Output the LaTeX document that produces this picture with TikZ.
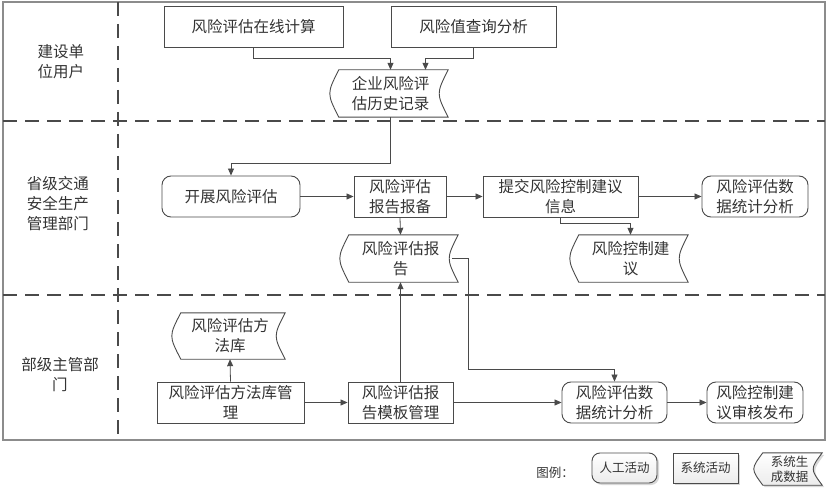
\documentclass[tikz,border=0pt]{standalone}
\usepackage{fontspec}
\newfontfamily\cjk{Noto Sans CJK SC}
\usetikzlibrary{arrows.meta,shadows}
\definecolor{linegray}{HTML}{4A4A4A}
\definecolor{framegray}{HTML}{8C8C8C}
\definecolor{txtgray}{HTML}{333333}
\pgfdeclarelayer{background}
\pgfsetlayers{background,main}

\begin{document}
\begin{tikzpicture}[x=1pt,y=-1pt,
  font=\cjk\fontsize{15.5}{20}\selectfont, text=txtgray,
  box/.style={draw=linegray,line width=0.9pt,align=center,inner sep=0pt,minimum height=41pt},
  proc/.style={box},
  act/.style={box,rounded corners=9pt},
  store/.style={align=center,inner sep=0pt,minimum height=47pt},
  storeline/.style={draw=linegray,line width=0.9pt},
  flow/.style={draw=linegray,line width=0.8pt,-{Triangle[length=7pt,width=6pt]}},
  lane/.style={draw=linegray,line width=1.2pt,dash pattern=on 14pt off 8pt},
  legend/.style={font=\cjk\fontsize{12.5}{15}\selectfont,minimum width=65pt,minimum height=30pt,
    top color=white,bottom color=gray!15,drop shadow={shadow xshift=2pt,shadow yshift=-2pt,fill=gray!60}}]
\useasboundingbox (0,0) rectangle (828,492);

% swimlanes
\draw[framegray,line width=1.5pt] (3,2) rectangle (825,440);
\draw[lane] (118,2) -- (118,440);
\draw[lane] (3,121) -- (825,121);
\draw[lane] (3,295) -- (825,295);
\node[align=center] (lane1) at (61,62) {建设单\\位用户};
\node[align=center] (lane2) at (58,204) {省级交通\\安全生产\\管理部门};
\node[align=center] (lane3) at (60,375) {部级主管部\\门};

% enterprise users
\node[proc,minimum width=179pt] (calc) at (253.5,26.5) {风险评估在线计算};
\node[proc,minimum width=165pt] (query) at (473.5,26.5) {风险值查询分析};
\node[store,minimum width=115pt] (hist) at (390.5,93.5) {企业风险评\\估历史记录};

% provincial department
\node[act,minimum width=138pt] (start) at (231,196.5) {开展风险评估};
\node[proc,minimum width=92pt] (filing) at (400,196.5) {风险评估\\报告报备};
\node[proc,minimum width=155pt] (submit) at (560.5,196.5) {提交风险控制建议\\信息};
\node[act,minimum width=106pt] (stat1) at (755,196.5) {风险评估数\\据统计分析};
\node[store,minimum width=115pt] (report) at (400.5,258.5) {风险评估报\\告};
\node[store,minimum width=115pt] (advice) at (630.5,258.5) {风险控制建\\议};

% ministry
\node[store,minimum width=110pt,minimum height=46pt] (lib) at (230,336) {风险评估方\\法库};
\node[proc,minimum width=147pt] (libm) at (230.5,402.5) {风险评估方法库管\\理};
\node[proc,minimum width=105pt] (tmpl) at (400.5,402.5) {风险评估报\\告模板管理};
\node[act,minimum width=105pt] (stat2) at (614.5,402.5) {风险评估数\\据统计分析};
\node[act,minimum width=96pt] (publish) at (755,402.5) {风险控制建\\议审核发布};

% stored data outlines
\foreach \n in {hist,report,advice,lib}
  \draw[storeline] ([xshift=6pt]\n.north west) -- (\n.north east)
    .. controls ([xshift=-12pt]\n.east) .. (\n.south east)
    -- ([xshift=6pt]\n.south west)
    .. controls ([xshift=-6pt]\n.west) .. ([xshift=6pt]\n.north west) -- cycle;

% flows
\draw[flow] (calc.south) -- ++(0,11) -| (hist.north);
\draw[flow] (query.south) -- ++(0,11) -| ([xshift=35pt]hist.north);
\draw[flow] (hist.south) -- ++(0,46) -| (start.north);
\draw[flow] (start.east) -- (filing.west);
\draw[flow] (filing.east) -- (submit.west);
\draw[flow] (submit.east) -- (stat1.west);
\draw[flow] (filing.south) -- (report.north);
\draw[flow] (submit.south) -- ++(0,6) -| (advice.north);
\draw[flow] ([xshift=-6pt]report.east) -- ++(16,0) |- ([yshift=12pt]stat2.north) -- (stat2.north);
\draw[flow] (libm.north) -- (lib.south);
\draw[flow] (libm.east) -- (tmpl.west);
\draw[flow] (tmpl.north) -- (report.south);
\draw[flow] (tmpl.east) -- (stat2.west);
\draw[flow] (stat2.east) -- (publish.west);

% legend
\node[font=\cjk\fontsize{12.5}{15}\selectfont] (legtitle) at (555,473) {图例：};
\node[box,legend,rounded corners=8pt] (leghuman) at (624.5,468) {人工活动};
\node[box,legend] (legsys) at (705.5,468) {系统活动};
\node[store,font=\cjk\fontsize{12.5}{15}\selectfont,minimum width=65pt,minimum height=32pt] (legdata) at (789.5,469) {系统生\\成数据};
\begin{pgfonlayer}{background}
\path[storeline,top color=white,bottom color=gray!15,drop shadow={shadow xshift=2pt,shadow yshift=-2pt,fill=gray!60}]
  ([xshift=6pt]legdata.north west) -- (legdata.north east)
  .. controls ([xshift=-12pt]legdata.east) .. (legdata.south east)
  -- ([xshift=6pt]legdata.south west)
  .. controls ([xshift=-6pt]legdata.west) .. ([xshift=6pt]legdata.north west) -- cycle;
\end{pgfonlayer}
\end{tikzpicture}
\end{document}
